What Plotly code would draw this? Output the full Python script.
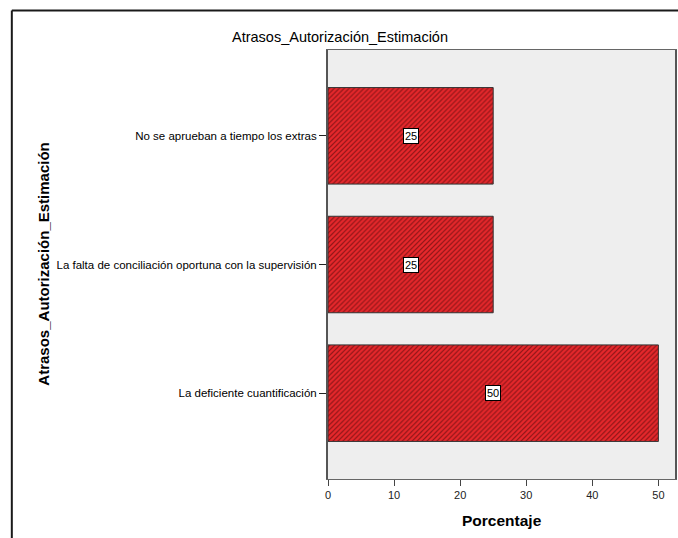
import plotly.graph_objects as go

categories = ["La deficiente cuantificación",
              "La falta de conciliación oportuna con la supervisión",
              "No se aprueban a tiempo los extras"]
values = [50, 25, 25]
x_ticks = [0, 10, 20, 30, 40, 50]

W, H = 678, 538
L, R, T, B = 328, 1, 50, 59
pw, ph = W - L - R, H - T - B

FONT = "Liberation Sans, Arial"

fig = go.Figure()
fig.add_trace(go.Bar(
    x=values, y=categories, orientation="h", width=0.75,
    marker=dict(color="#e6282c",
                line=dict(color="#333333", width=1),
                pattern=dict(shape="/", fgcolor="#3a0404", bgcolor="#e6282c",
                             size=3.5, solidity=0.35)),
    hoverinfo="x+y",
))

annotations = []
for c, v in zip(categories, values):
    annotations.append(dict(x=v / 2, y=c, xref="x", yref="y", text=str(v),
                            showarrow=False, bgcolor="white", bordercolor="black",
                            borderwidth=1, borderpad=1,
                            font=dict(family=FONT, size=11, color="black")))

annotations.append(dict(x=0.5, y=-(520 - (H - B)) / ph, xref="paper", yref="paper",
                        text="<b>Porcentaje</b>", showarrow=False,
                        font=dict(family=FONT, size=15.5, color="black"),
                        xanchor="center", yanchor="middle"))
annotations.append(dict(x=(41 - L) / pw, y=(H - B - 264) / ph,
                        xref="paper", yref="paper",
                        text="<b>Atrasos_Autorización_Estimación</b>", showarrow=False,
                        textangle=-90,
                        font=dict(family=FONT, size=15, color="black"),
                        xanchor="center", yanchor="middle"))

top_y = 1 + (T - 10.5) / ph
left_x = (10 - L) / pw
shapes = [
    dict(type="line", xref="paper", yref="paper",
         x0=left_x, x1=(W + 5 - L) / pw, y0=top_y, y1=top_y,
         line=dict(color="#1a1a1a", width=2)),
    dict(type="line", xref="paper", yref="paper",
         x0=left_x, x1=left_x, y0=top_y, y1=-(B + 5) / ph,
         line=dict(color="#1a1a1a", width=2)),
]

fig.update_layout(
    width=W, height=H,
    margin=dict(l=L, r=R, t=T, b=B, pad=0),
    paper_bgcolor="white", plot_bgcolor="#eeeeee",
    showlegend=False,
    title=dict(text="Atrasos_Autorización_Estimación", x=340 / W, xanchor="center",
               y=1 - 37 / H, yanchor="middle", yref="container",
               font=dict(family=FONT, size=14.5, color="black")),
    font=dict(family=FONT, size=10, color="black"),
    xaxis=dict(range=[0, (677 - 328) / 6.646], tickvals=x_ticks, ticks="outside",
               ticklen=6, tickwidth=1, tickcolor="#444444",
               showgrid=False, zeroline=False, showline=True, linecolor="#666666",
               linewidth=1, mirror=True,
               tickfont=dict(family=FONT, size=11, color="#222222")),
    yaxis=dict(type="category", categoryorder="array", categoryarray=categories,
               range=[-0.667, 2.667], ticks="outside", ticklen=7, tickwidth=1,
               tickcolor="#222222", showgrid=False, zeroline=False,
               showline=True, linecolor="#555555", linewidth=2, mirror=True,
               tickfont=dict(family=FONT, size=11.5, color="black")),
    annotations=annotations,
    shapes=shapes,
)

fig.write_html("out.html",
               config={"displayModeBar": False},
               post_script="document.body.style.margin='0';"
                           "document.body.style.overflow='hidden';")
